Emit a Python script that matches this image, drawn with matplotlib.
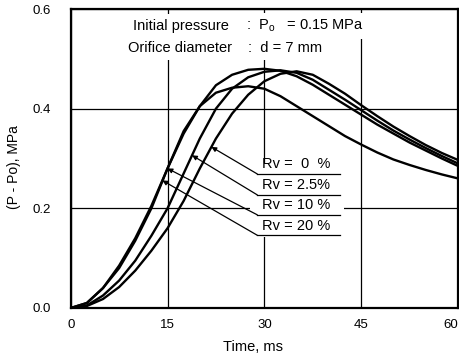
import numpy as np
import matplotlib
matplotlib.use("Agg")
import matplotlib.pyplot as plt
from matplotlib.patches import Rectangle

plt.rcParams['font.family'] = ['Liberation Sans', 'DejaVu Sans']

# ---- data ----
time_ms = [0, 2.5, 5, 7.5, 10, 12.5, 15, 17.5, 20, 22.5, 25, 27.5, 30,
           32.5, 35, 37.5, 40, 42.5, 45, 47.5, 50, 52.5, 55, 57.5, 60]
rv_0 = [0, 0.004, 0.018, 0.042, 0.075, 0.115, 0.16, 0.215, 0.28, 0.34, 0.39,
        0.428, 0.455, 0.47, 0.475, 0.468, 0.45, 0.43, 0.407, 0.385, 0.364,
        0.345, 0.327, 0.311, 0.297]
rv_2_5 = [0, 0.005, 0.025, 0.055, 0.095, 0.145, 0.2, 0.27, 0.34, 0.4, 0.44,
          0.463, 0.474, 0.477, 0.472, 0.458, 0.438, 0.418, 0.397, 0.376,
          0.356, 0.338, 0.321, 0.305, 0.29]
rv_10 = [0, 0.01, 0.04, 0.08, 0.135, 0.2, 0.28, 0.35, 0.405, 0.447, 0.468,
         0.478, 0.48, 0.476, 0.465, 0.448, 0.428, 0.408, 0.388, 0.368, 0.35,
         0.332, 0.316, 0.3, 0.285]
rv_20 = [0, 0.01, 0.04, 0.085, 0.14, 0.205, 0.28, 0.355, 0.405, 0.432, 0.442,
         0.445, 0.44, 0.425, 0.405, 0.385, 0.365, 0.345, 0.328, 0.312, 0.298,
         0.287, 0.277, 0.268, 0.26]
series = [rv_0, rv_2_5, rv_10, rv_20]
labels = ["Rv =  0  %", "Rv = 2.5%", "Rv = 10 %", "Rv = 20 %"]
arrow_t = [21.8, 18.8, 15.0, 14.2]        # where each leader arrow touches its curve
label_v = [0.269, 0.227, 0.187, 0.146]    # underline level of each label

x_ticks = [0, 15, 30, 45, 60]
y_ticks = [0.0, 0.2, 0.4, 0.6]
y_tick_labels = ["0.0", "0.2", "0.4", "0.6"]

# ---- figure ----
W, H = 459, 359
fig = plt.figure(figsize=(W / 100, H / 100), dpi=100)
left, right, top, bottom = 70.7, 458.0, 9.0, 308.0
ax = fig.add_axes([left / W, 1 - bottom / H, (right - left) / W, (bottom - top) / H])

ax.set_xlim(0, 60)
ax.set_ylim(0, 0.6)
ax.set_xticks(x_ticks)
ax.set_xticklabels([str(t) for t in x_ticks])
ax.set_yticks(y_ticks)
ax.set_yticklabels(y_tick_labels)
ax.tick_params(axis='both', length=0, labelsize=9.5)
ax.tick_params(axis='x', pad=8)
ax.tick_params(axis='y', pad=14)
ax.get_xticklabels()[-1].set_horizontalalignment('right')
ax.set_axisbelow(True)
ax.grid(True, color='black', lw=0.9)
for s in ax.spines.values():
    s.set_linewidth(1.6)

for vals in series:
    ax.plot(time_ms, vals, color='black', lw=1.7, zorder=3)

# white area behind labels (interrupts grid lines as in the original)
ax.add_patch(Rectangle((27.8, 0.142), 14.5, 0.148, facecolor='white',
                       edgecolor='none', zorder=1))

for vals, lab, ta, lv in zip(series, labels, arrow_t, label_v):
    va = float(np.interp(ta, time_ms, vals))
    ax.annotate("", xy=(ta, va), xytext=(28.9, lv),
                arrowprops=dict(arrowstyle='-|>', lw=0.9, color='black',
                                mutation_scale=7, shrinkA=0, shrinkB=0),
                zorder=4)
    ax.plot([28.9, 41.7], [lv, lv], color='black', lw=0.9, zorder=4)
    ax.text(29.6, lv + 0.005, lab, fontsize=10.5, ha='left', va='bottom', zorder=5)

# header text
bb = dict(facecolor='white', edgecolor='none', pad=3.5)
ax.text(9.65, 0.566, "Initial pressure", fontsize=10.5, ha='left', va='center', bbox=bb, zorder=5)
ax.text(27.2, 0.566, ":  P$_\\mathregular{o}$   = 0.15 MPa", fontsize=10.5, ha='left', va='center', bbox=bb, zorder=5)
ax.text(8.9, 0.522, "Orifice diameter", fontsize=10.5, ha='left', va='center', bbox=bb, zorder=5)
ax.text(27.5, 0.522, ":  d = 7 mm", fontsize=10.5, ha='left', va='center', bbox=bb, zorder=5)

ax.set_xlabel("Time, ms", fontsize=10.5)
ax.xaxis.set_label_coords((253 - left) / (right - left), (bottom - 340) / (bottom - top))
ax.set_ylabel("(P - Po), MPa", fontsize=10)
ax.yaxis.set_label_coords((21 - left) / (right - left), 0.47)

fig.savefig("out.png", dpi=100)
